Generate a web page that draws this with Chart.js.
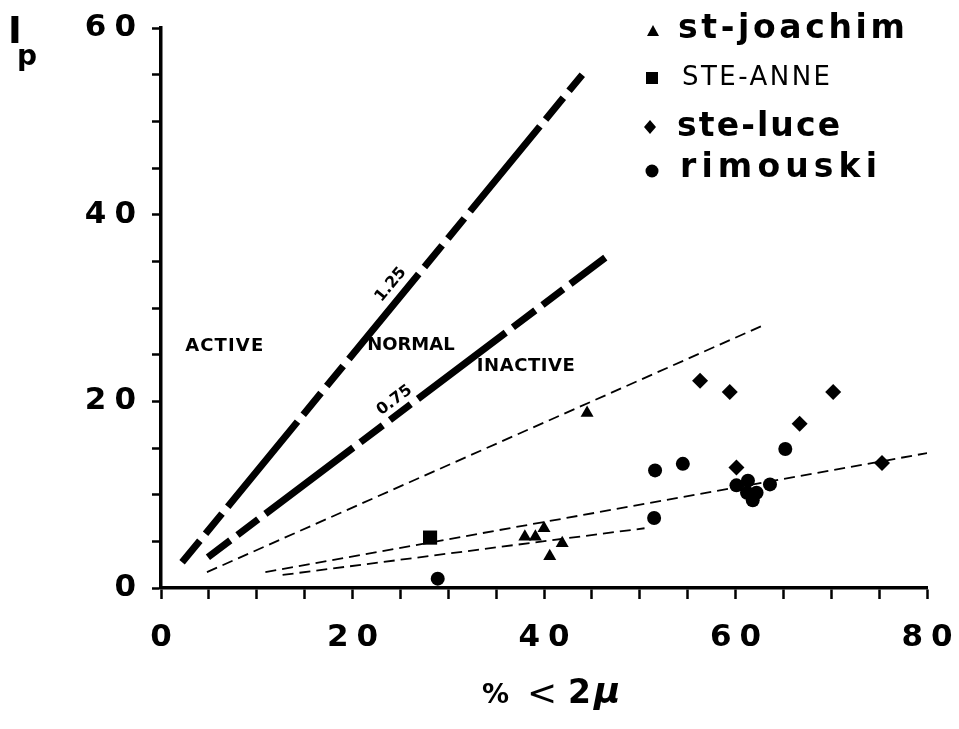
<!DOCTYPE html>
<html><head><meta charset="utf-8">
<script src="https://cdn.jsdelivr.net/npm/chart.js@4.4.0/dist/chart.umd.min.js"></script>
<style>html,body{margin:0;padding:0;background:#fff}#wrap{width:959px;height:729px}</style>
</head><body><div id="wrap"><canvas id="c" width="959" height="729"></canvas></div>
<script>
// ---- data ----
const xTickLabels = [0, 20, 40, 60, 80];
const yTickLabels = [0, 20, 40, 60];
const seriesNames = ['st-joachim', 'STE-ANNE', 'ste-luce', 'rimouski'];
const stJoachimX = [38.0, 39.1, 40.0, 41.9, 40.6, 44.5];
const stJoachimY = [5.5, 5.5, 6.4, 4.8, 3.4, 18.75];
const steAnneX = [28.1];
const steAnneY = [5.4];
const steLuceX = [56.3, 59.4, 70.2, 66.7, 60.1, 75.3];
const steLuceY = [22.2, 21.0, 21.0, 17.6, 12.9, 13.4];
const rimouskiX = [51.6, 54.5, 65.2, 51.5, 60.1, 61.3, 61.2, 62.2, 61.8, 63.6, 28.9];
const rimouskiY = [12.6, 13.3, 14.9, 7.5, 11.0, 11.5, 10.2, 10.2, 9.4, 11.1, 1.0];
// activity boundary lines and trend lines (end points)
const line125X = [2.2, 44.0], line125Y = [2.75, 55.0];
const line075X = [4.9, 46.4], line075Y = [3.3, 35.4];
const trendAX = [4.8, 62.8], trendAY = [1.7, 28.1];
const trendBX = [10.9, 80.8], trendBY = [1.7, 14.6];
const trendCX = [12.7, 50.5], trendCY = [1.4, 6.4];
// region labels (data coordinates)
const regionLabels = ['ACTIVE', 'NORMAL', 'INACTIVE'];
const regionX = [6.6, 26.1, 38.1];
const regionY = [25.9, 26.0, 23.7];
const lineLabels = ['1.25', '0.75'];
const lineLabelX = [24.0, 24.4];
const lineLabelY = [32.5, 20.1];

const pts = (xs, ys) => xs.map((x, i) => ({x: x, y: ys[i]}));
const FONT = '"DejaVu Sans", sans-serif';

function spacedText(ctx, text, x, y, font, width, align) {
  ctx.save();
  ctx.font = font;
  ctx.letterSpacing = '0px';
  const n = [...text].length;
  const w0 = ctx.measureText(text).width;
  const sp = n > 1 ? Math.max(0, (width - w0) / (n - 1)) : 0;
  ctx.letterSpacing = sp.toFixed(2) + 'px';
  const vis = w0 + sp * (n - 1);
  let left = x;
  if (align === 'center') left = x - vis / 2;
  ctx.textAlign = 'left';
  ctx.fillStyle = '#000';
  ctx.fillText(text, left, y);
  ctx.restore();
}

const annotate = {
  id: 'annotate',
  beforeDraw(chart) { chart.ctx.letterSpacing = '8px'; },
  afterDatasetsDraw(chart) {
    const ctx = chart.ctx;
    ctx.save();
    ctx.letterSpacing = '0px';
    const xs = chart.scales.x, ys = chart.scales.y;
    const rw = [78, 87, 98];
    regionLabels.forEach((t, i) => {
      ctx.textBaseline = 'middle';
      spacedText(ctx, t, xs.getPixelForValue(regionX[i]), ys.getPixelForValue(regionY[i]), 'bold 18px ' + FONT, rw[i], 'center');
    });
    const ang = [-50.6, -37];
    lineLabels.forEach((t, i) => {
      ctx.save();
      ctx.translate(xs.getPixelForValue(lineLabelX[i]), ys.getPixelForValue(lineLabelY[i]));
      ctx.rotate(ang[i] * Math.PI / 180);
      ctx.textBaseline = 'middle';
      spacedText(ctx, t, 0, 0, 'bold 16px ' + FONT, 36, 'center');
      ctx.restore();
    });
    ctx.restore();
  },
  afterDraw(chart) {
    const ctx = chart.ctx;
    ctx.save();
    ctx.letterSpacing = '0px';
    ctx.fillStyle = '#000';
    ctx.textBaseline = 'alphabetic';
    // y axis title I_p
    ctx.font = 'bold 37px ' + FONT;
    ctx.fillText('I', 8, 43);
    ctx.font = 'bold 28px ' + FONT;
    ctx.fillText('p', 17, 65);
    // x axis title
    ctx.font = 'bold 27px ' + FONT;
    ctx.fillText('%', 482, 703);
    ctx.font = '36px ' + FONT;
    ctx.fillText('<', 527, 705);
    ctx.font = 'bold 33px ' + FONT;
    ctx.fillText('2', 568, 703);
    ctx.font = 'italic bold 36px ' + FONT;
    ctx.fillText('\u03bc', 594, 703);
    ctx.letterSpacing = '0px';
    chart.ctx.letterSpacing = '0px';
    // legend
    const mk = [
      {s: 'tri', x: 653, y: 31},
      {s: 'sq', x: 652, y: 78},
      {s: 'dia', x: 650, y: 127},
      {s: 'cir', x: 652, y: 171}
    ];
    const lg = [
      {x: 678, y: 38, f: 'bold 33px ', w: 227},
      {x: 682, y: 85, f: '26px ', w: 148},
      {x: 677, y: 136, f: 'bold 33px ', w: 163},
      {x: 680, y: 177, f: 'bold 33px ', w: 197}
    ];
    mk.forEach((m, i) => {
      ctx.beginPath();
      if (m.s === 'tri') { ctx.moveTo(m.x, m.y - 6); ctx.lineTo(m.x + 6, m.y + 5); ctx.lineTo(m.x - 6, m.y + 5); ctx.closePath(); }
      else if (m.s === 'sq') { ctx.rect(m.x - 6, m.y - 6, 12, 12); }
      else if (m.s === 'dia') { ctx.moveTo(m.x, m.y - 7); ctx.lineTo(m.x + 6, m.y); ctx.lineTo(m.x, m.y + 7); ctx.lineTo(m.x - 6, m.y); ctx.closePath(); }
      else { ctx.arc(m.x, m.y, 6.5, 0, Math.PI * 2); }
      ctx.fill();
      spacedText(ctx, seriesNames[i], lg[i].x, lg[i].y, lg[i].f + FONT, lg[i].w, 'left');
    });
    ctx.restore();
  }
};

const thick = (xs, ys) => ({
  data: pts(xs, ys), showLine: true, pointRadius: 0, borderColor: '#000',
  borderWidth: 7, borderDash: [28, 9, 26, 9, 110, 9], borderCapStyle: 'butt', fill: false
});
const thin = (xs, ys) => ({
  data: pts(xs, ys), showLine: true, pointRadius: 0, borderColor: '#000',
  borderWidth: 1.8, borderDash: [11, 6], fill: false
});
const marks = (xs, ys, style, r) => ({
  data: pts(xs, ys), showLine: false, pointStyle: style, pointRadius: r,
  backgroundColor: '#000', borderColor: '#000', borderWidth: 0
});

new Chart(document.getElementById('c'), {
  type: 'scatter',
  data: {
    datasets: [
      thick(line125X, line125Y),
      thick(line075X, line075Y),
      thin(trendAX, trendAY),
      thin(trendBX, trendBY),
      thin(trendCX, trendCY),
      marks(stJoachimX, stJoachimY, 'triangle', 7.5),
      marks(steAnneX, steAnneY, 'rect', 10),
      marks(steLuceX, steLuceY, 'rectRot', 8),
      marks(rimouskiX, rimouskiY, 'circle', 7)
    ]
  },
  options: {
    responsive: false,
    devicePixelRatio: 1,
    animation: false,
    layout: {padding: {left: 0, top: 28, right: 32, bottom: 0}},
    plugins: {legend: {display: false}, tooltip: {enabled: false}},
    scales: {
      x: {
        type: 'linear', min: 0, max: 80,
        afterFit: s => { s.height = 141; s.paddingRight = 0; s.paddingLeft = 0; },
        border: {display: true, color: '#000', width: 3.5},
        grid: {display: true, drawOnChartArea: false, drawTicks: true, tickLength: 11, tickColor: '#000', tickWidth: 2.5},
        ticks: {stepSize: 5, autoSkip: false, maxRotation: 0, padding: 20, labelOffset: 4, color: '#000',
          font: {family: 'DejaVu Sans', size: 31, weight: 'bold'},
          callback: v => xTickLabels.includes(v) ? String(v) : ''}
      },
      y: {
        type: 'linear', min: 0, max: 60,
        afterFit: s => { s.width = 161; s.paddingTop = 0; s.paddingBottom = 0; },
        border: {display: true, color: '#000', width: 3.5},
        grid: {display: true, drawOnChartArea: false, drawTicks: true, tickLength: 9, tickColor: '#000', tickWidth: 2.5},
        ticks: {stepSize: 5, autoSkip: false, padding: 8, color: '#000',
          font: {family: 'DejaVu Sans', size: 31, weight: 'bold'},
          callback: v => yTickLabels.includes(v) ? String(v) : ''}
      }
    }
  },
  plugins: [annotate]
});
</script></body></html>
